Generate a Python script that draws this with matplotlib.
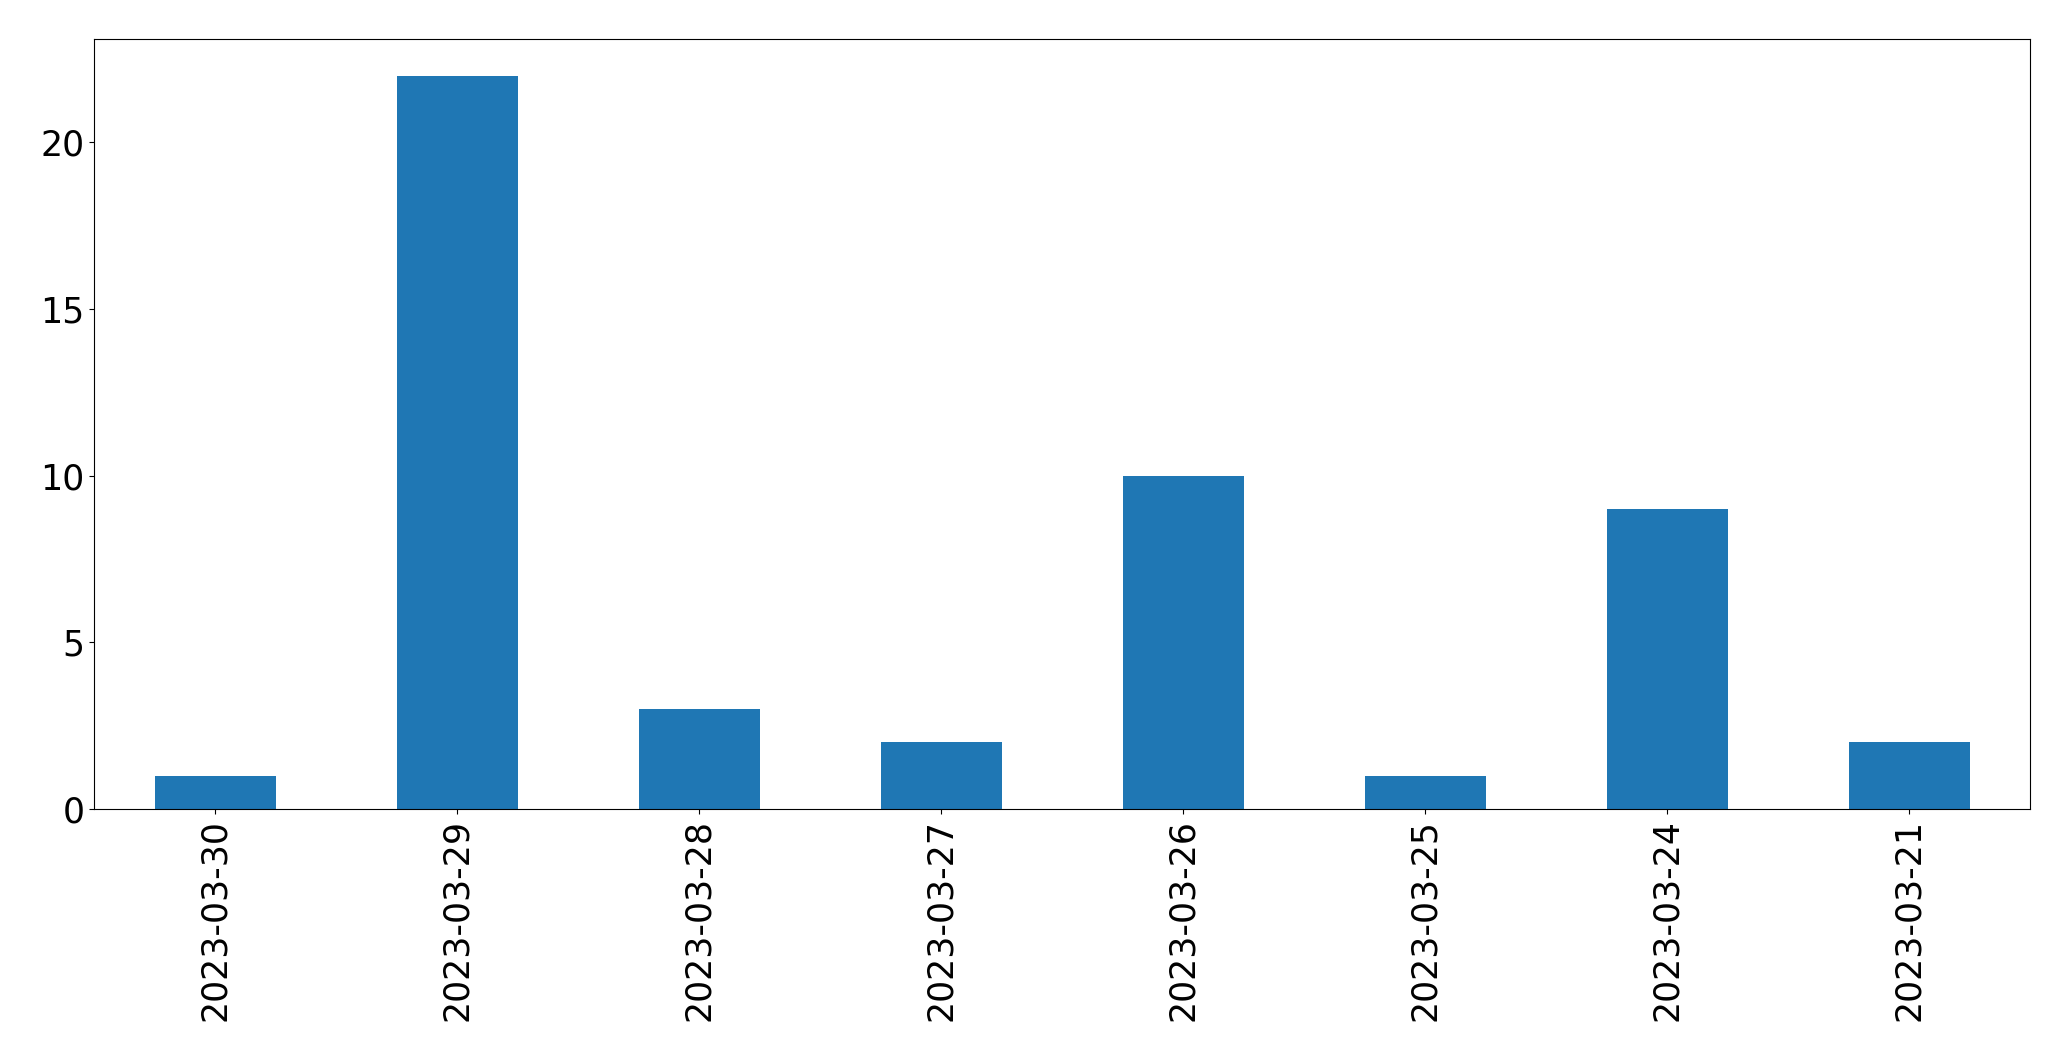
import numpy as np
import pandas as pd
from matplotlib import pyplot as plt

#daily counts, in the order they show up on the chart
dates = ['2023-03-30', '2023-03-29', '2023-03-28', '2023-03-27',
         '2023-03-26', '2023-03-25', '2023-03-24', '2023-03-21']
counts = [1, 22, 3, 2, 10, 1, 9, 2]

s = pd.Series(counts, index=dates)

fig = plt.figure(figsize=(20.71, 10.61), dpi=100)
ax = fig.add_axes([94/2071, 1 - 809/1061, (2030-94)/2071, (809-39)/1061])
s.plot(kind='bar', ax=ax, fontsize=25, color='#1f77b4')

plt.savefig('out.png', dpi=100)
